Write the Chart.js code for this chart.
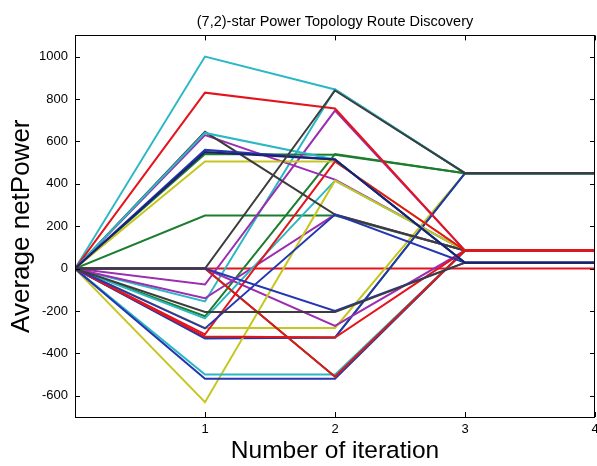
<!DOCTYPE html>
<html><head><meta charset="utf-8">
<script src="https://cdn.jsdelivr.net/npm/chart.js@4"></script>
<style>html,body{margin:0;padding:0;background:#fff}</style>
</head><body>
<canvas id="c" width="597" height="466"></canvas>
<script>
// ---- data ----
const iterations = [0, 1, 2, 3, 4];
const xTicks = [1, 2, 3, 4];
const yTicks = [-600, -400, -200, 0, 200, 400, 600, 800, 1000];

const red0     = [0, 0, 0, 0, 0];
const cyan1    = [0, 1000, 845, 450, 450];
const green1   = [0, 540, 537, 450, 450];
const green2   = [0, -225, 540, 450, 450];
const greenLow = [0, -325, -325, 450, 450];
const blueLow  = [0, -330, -325, 450, 450];
const yellowLow= [0, -280, -280, 450, 450];
const cyan2    = [0, -155, 845, 450, 450];
const black2   = [0, 645, 255, 85, 85];
const green3   = [0, 250, 250, 85, 85];
const magenta1 = [0, 630, 420, 85, 85];
const magenta2 = [0, -75, 745, 85, 85];
const magenta3 = [0, -140, 255, 85, 85];
const magenta4 = [0, 0, -270, 85, 85];
const cyan3    = [0, -235, 415, 85, 85];
const yellow2  = [0, -630, 415, 85, 85];
const yellow1  = [0, 505, 505, 85, 85];
const cyan4    = [0, -500, -500, 85, 85];
const blue4    = [0, -520, -520, 85, 85];
const green4   = [0, 0, -510, 85, 85];
const red3     = [0, -320, -325, 85, 85];
const red4     = [0, -310, 505, 85, 85];
const red5     = [0, 0, -510, 85, 85];
const red2     = [0, 830, 755, 85, 85];
const black3   = [0, -205, -205, 28, 28];
const cyan5    = [0, 640, 515, 28, 28];
const blue5    = [0, -282, 255, 28, 28];
const blue6    = [0, 0, -200, 28, 28];
const navy1    = [0, 550, 515, 28, 28];
const blue1    = [0, 560, 515, 28, 28];
const black1   = [0, 0, 840, 450, 450];

const C = {
  red: '#e4141c', cyan: '#2bb8c4', green: '#1d7d2e', blue: '#2436b0',
  navy: '#1a2270', yellow: '#c6c620', magenta: '#9c2cb0', black: '#3c3c3c'
};

// drawing order: later entries are drawn on top
const series = [
  [red0, C.red], [cyan1, C.cyan], [cyan2, C.cyan], [yellowLow, C.yellow],
  [green2, C.green], [green1, C.green], [greenLow, C.green], [blueLow, C.blue],
  [green3, C.green], [magenta1, C.magenta], [magenta2, C.magenta],
  [magenta3, C.magenta], [magenta4, C.magenta], [cyan3, C.cyan], [yellow2, C.yellow],
  [yellow1, C.yellow], [cyan4, C.cyan], [blue4, C.blue], [green4, C.green],
  [black2, C.black], [red3, C.red], [red4, C.red], [red5, C.red], [red2, C.red],
  [cyan5, C.cyan], [blue5, C.blue], [blue6, C.blue], [blue1, C.blue],
  [black3, C.black], [navy1, C.navy], [black1, C.black]
];

const FONT = 'Arial, "Liberation Sans", Helvetica, sans-serif';

const boxPlugin = {
  id: 'box',
  afterDraw(chart) {
    const {ctx, chartArea: a, scales} = chart;
    ctx.save();
    ctx.strokeStyle = '#000';
    ctx.lineWidth = 1;
    ctx.strokeRect(Math.round(a.left) + 0.5, Math.round(a.top) + 0.5,
                   Math.round(a.right - a.left) - 1, Math.round(a.bottom - a.top));
    ctx.beginPath();
    const L = 5;
    xTicks.forEach(v => {
      const px = Math.round(scales.x.getPixelForValue(v)) + 0.5;
      ctx.moveTo(px, a.bottom); ctx.lineTo(px, a.bottom - L);
      ctx.moveTo(px, a.top); ctx.lineTo(px, a.top + L);
    });
    yTicks.forEach(v => {
      const py = Math.round(scales.y.getPixelForValue(v)) + 0.5;
      ctx.moveTo(a.left, py); ctx.lineTo(a.left + L, py);
      ctx.moveTo(a.right, py); ctx.lineTo(a.right - L, py);
    });
    ctx.stroke();
    ctx.restore();
  }
};

// Chart.js paints dataset 0 last (on top), so reverse to keep list order = paint order
const datasets = series.slice().reverse().map(([vals, color]) => ({
  data: iterations.map((x, i) => ({x: x, y: vals[i]})),
  borderColor: color, borderWidth: 2, pointRadius: 0, fill: false, tension: 0
}));

new Chart(document.getElementById('c'), {
  type: 'line',
  data: {datasets},
  options: {
    responsive: false, animation: false,
    layout: {padding: {left: 0, right: 2, top: 0, bottom: 0}},
    plugins: {
      legend: {display: false}, tooltip: {enabled: false},
      title: {display: true, fullSize: false, text: '(7,2)-star Power Topology Route Discovery',
        color: '#000', font: {family: FONT, size: 14.5, weight: 'normal'},
        padding: {top: 13, bottom: 5}}
    },
    scales: {
      x: {
        type: 'linear', min: 0, max: 4,
        grid: {display: false, drawTicks: false}, border: {display: false},
        ticks: {padding: 5, color: '#000', font: {family: FONT, size: 13},
          callback: v => String(v)},
        afterBuildTicks: s => { s.ticks = xTicks.map(v => ({value: v})); },
        afterFit: s => { s.height = 49; s.paddingLeft = 0; s.paddingRight = 0; },
        title: {display: true, text: 'Number of iteration', color: '#000',
          font: {family: FONT, size: 24.5}, padding: {top: 0, bottom: 0}}
      },
      y: {
        type: 'linear', min: -700, max: 1100,
        grid: {display: false, drawTicks: false}, border: {display: false},
        ticks: {padding: 7, color: '#000', font: {family: FONT, size: 13},
          callback: v => String(v)},
        afterBuildTicks: s => { s.ticks = yTicks.map(v => ({value: v})); },
        afterFit: s => { s.width = 75; s.paddingTop = 0; s.paddingBottom = 0; },
        title: {display: true, text: 'Average netPower', color: '#000',
          font: {family: FONT, size: 26}, padding: {top: 6, bottom: 0}}
      }
    }
  },
  plugins: [boxPlugin]
});
</script>
</body></html>
